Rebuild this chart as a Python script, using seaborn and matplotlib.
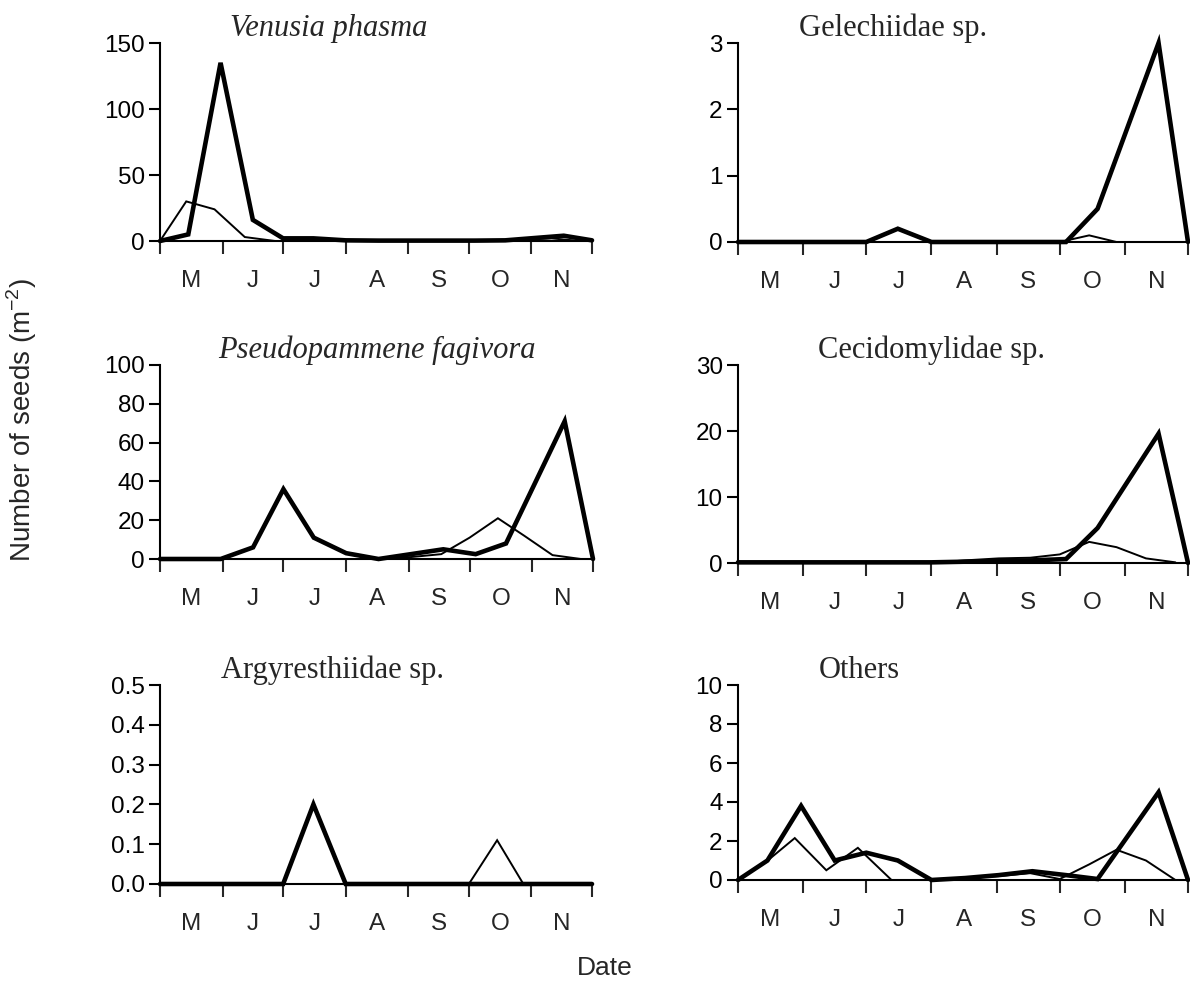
import numpy as np
import pandas as pd
import matplotlib
matplotlib.use("Agg")
import matplotlib.pyplot as plt
import seaborn as sns
from matplotlib.ticker import FixedLocator, NullFormatter, FixedFormatter

sns.set_style("ticks")
plt.rcParams["font.family"] = ["Liberation Sans", "DejaVu Sans"]

# Sampling dates, days since 1 May (two sampling series)
thick_days = [0, 14, 30, 46, 61, 76, 92, 108, 124, 140, 156, 171, 200, 214]
thin_days = [0, 13, 27, 42, 57, 73, 92, 108, 124, 139, 153, 167, 180, 194, 208]

# Month boundaries and labels
month_edges = [0, 31, 61, 92, 123, 153, 184, 214]
month_labels = ["M", "J", "J", "A", "S", "O", "N"]

# Seeds per m2 by taxon
venusia_thick = [0, 5, 135, 16, 2, 2, 0.5, 0.3, 0.3, 0.3, 0.3, 0.5, 4, 0.5]
venusia_thin = [0, 30, 24, 3, 0, 0, 0, 0, 0, 0, 0, 0, 1, 2, 0]

gelech_thick = [0, 0, 0, 0, 0, 0.2, 0, 0, 0, 0, 0, 0.5, 3, 0]
gelech_thin = [0, 0, 0, 0, 0, 0, 0, 0, 0, 0, 0, 0.1, 0, 0, 0]

pseudo_thick = [0, 0, 0, 6, 36, 11, 3, 0, 2.5, 5, 2.5, 8, 71, 0]
pseudo_thin = [0, 0, 0, 0, 0, 0, 0, 0, 1, 2.5, 11, 21, 12, 2, 0]

cecid_thick = [0.1, 0.1, 0.1, 0.1, 0.1, 0.1, 0.1, 0.2, 0.3, 0.4, 0.6, 5.3, 19.6, 0]
cecid_thin = [0, 0, 0, 0, 0, 0, 0, 0.4, 0.7, 0.8, 1.3, 3.2, 2.4, 0.7, 0.1]

argyr_thick = [0, 0, 0, 0, 0, 0.2, 0, 0, 0, 0, 0, 0, 0, 0]
argyr_thin = [0, 0, 0, 0, 0, 0, 0, 0, 0, 0, 0, 0.11, 0, 0, 0]

others_thick = [0, 1, 3.8, 1, 1.4, 1, 0, 0.1, 0.25, 0.45, 0.25, 0.05, 4.5, 0]
others_thin = [0, 0.9, 2.15, 0.5, 1.65, 0, 0, 0.1, 0.2, 0.35, 0.05, 0.8, 1.55, 1.0, 0]

panels = [
    dict(title="Venusia phasma", italic=True, thick=venusia_thick, thin=venusia_thin,
         yticks=[0, 50, 100, 150], ylabels=["0", "50", "100", "150"],
         rect=(160, 43, 432, 198), tx=0.39),
    dict(title="Gelechiidae sp.", italic=False, thick=gelech_thick, thin=gelech_thin,
         yticks=[0, 1, 2, 3], ylabels=["0", "1", "2", "3"],
         rect=(738, 43, 450, 199), tx=0.345),
    dict(title="Pseudopammene fagivora", italic=True, thick=pseudo_thick, thin=pseudo_thin,
         yticks=[0, 20, 40, 60, 80, 100], ylabels=["0", "20", "40", "60", "80", "100"],
         rect=(160, 365, 433, 194), tx=0.5),
    dict(title="Cecidomylidae sp.", italic=False, thick=cecid_thick, thin=cecid_thin,
         yticks=[0, 10, 20, 30], ylabels=["0", "10", "20", "30"],
         rect=(738, 365, 450, 198), tx=0.43),
    dict(title="Argyresthiidae sp.", italic=False, thick=argyr_thick, thin=argyr_thin,
         yticks=[0, 0.1, 0.2, 0.3, 0.4, 0.5],
         ylabels=["0.0", "0.1", "0.2", "0.3", "0.4", "0.5"],
         rect=(160, 685, 432, 199), tx=0.4),
    dict(title="Others", italic=False, thick=others_thick, thin=others_thin,
         yticks=[0, 2, 4, 6, 8, 10], ylabels=["0", "2", "4", "6", "8", "10"],
         rect=(738, 685, 450, 195), tx=0.27),
]

W, H = 1190, 990
fig = plt.figure(figsize=(W / 100, H / 100), dpi=100)

for p in panels:
    x0, top, w, h = p["rect"]
    ax = fig.add_axes([x0 / W, 1 - (top + h) / H, w / W, h / H])
    d_thin = pd.DataFrame({"day": thin_days, "seeds": p["thin"]})
    d_thick = pd.DataFrame({"day": thick_days, "seeds": p["thick"]})
    sns.lineplot(data=d_thin, x="day", y="seeds", ax=ax, color="black",
                 linewidth=1.4, estimator=None, sort=False)
    sns.lineplot(data=d_thick, x="day", y="seeds", ax=ax, color="black",
                 linewidth=3.3, estimator=None, sort=False)
    for ln in ax.lines:
        ln.set_clip_on(False)
        ln.set_solid_joinstyle("miter")

    ax.set_xlim(0, 214)
    ax.set_ylim(p["yticks"][0], p["yticks"][-1])
    ax.set_xlabel("")
    ax.set_ylabel("")
    for s in ["top", "right"]:
        ax.spines[s].set_visible(False)
    for s in ["left", "bottom"]:
        ax.spines[s].set_linewidth(1.5)
        ax.spines[s].set_color("black")

    ax.yaxis.set_major_locator(FixedLocator(p["yticks"]))
    ax.yaxis.set_major_formatter(FixedFormatter(p["ylabels"]))
    ax.tick_params(axis="y", direction="out", length=8, width=1.5,
                   labelsize=17.5, pad=3, colors="black")

    centers = [(a + b) / 2 for a, b in zip(month_edges[:-1], month_edges[1:])]
    ax.xaxis.set_major_locator(FixedLocator(month_edges))
    ax.xaxis.set_major_formatter(NullFormatter())
    ax.xaxis.set_minor_locator(FixedLocator(centers))
    ax.xaxis.set_minor_formatter(FixedFormatter(month_labels))
    ax.tick_params(axis="x", which="major", direction="out", length=9, width=1.5)
    ax.tick_params(axis="x", which="minor", length=0, labelsize=17.5, pad=21)

    ax.text(p["tx"], 1.0, p["title"], transform=ax.transAxes, ha="center",
            va="bottom", fontsize=22, family="Liberation Serif",
            style="italic" if p["italic"] else "normal")

fig.text(22 / W, 1 - 420 / H, r"Number of seeds (m$^{\mathregular{-2}}$)",
         rotation=90, ha="center", va="center", fontsize=20)
fig.text(605 / W, 1 - 968 / H, "Date", ha="center", va="center", fontsize=19)

fig.savefig("out.png", dpi=100, facecolor="white")
